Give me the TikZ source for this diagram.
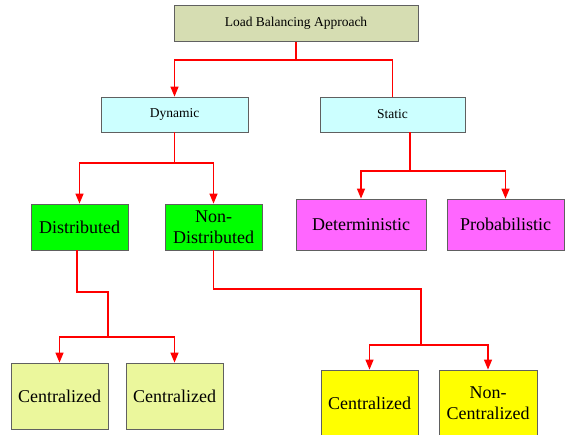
\documentclass[tikz,border=0pt]{standalone}
\usepackage{fontspec}
\setmainfont{Liberation Serif}
\usetikzlibrary{arrows.meta}
\definecolor{rootfill}{HTML}{D6DDB2}
\definecolor{cyanfill}{HTML}{CCFFFF}
\definecolor{greenfill}{HTML}{00FF00}
\definecolor{magfill}{HTML}{FF66FF}
\definecolor{palefill}{HTML}{EBF79C}
\definecolor{yelfill}{HTML}{FFFF00}
\definecolor{boxgray}{HTML}{606060}
\begin{document}
\begin{tikzpicture}[x=1pt,y=-1pt,
  box/.style={draw=boxgray, line width=0.8pt, inner sep=0pt, align=center, text=black},
  small/.style={font=\fontsize{13.5}{16}\selectfont},
  big/.style={font=\fontsize{18}{21.6}\selectfont},
  conn/.style={draw=red, line width=1.3pt},
  arr/.style={conn, -{Triangle[length=10pt,width=8pt]}}]
\useasboundingbox (0,0) rectangle (565,434);
\begin{scope}
\clip (0,0) rectangle (565,434);
\node[box,small,fill=rootfill,minimum width=244pt,minimum height=36pt] (root) at (296,23.5) {Load Balancing Approach};
\node[box,small,fill=cyanfill,minimum width=147pt,minimum height=35pt] (dyn) at (174.5,114.5) {Dynamic};
\node[box,small,fill=cyanfill,minimum width=145pt,minimum height=35pt] (stat) at (392.5,114.5) {Static};
\node[box,big,fill=greenfill,minimum width=97pt,minimum height=46pt] (dist) at (79.5,227) {Distributed};
\node[box,big,fill=greenfill,minimum width=97pt,minimum height=46pt] (nondist) at (213.5,227) {Non-\\Distributed};
\node[box,big,fill=magfill,minimum width=130pt,minimum height=51pt] (det) at (361,224.5) {Deterministic};
\node[box,big,fill=magfill,minimum width=117pt,minimum height=51pt] (prob) at (505.5,224.5) {Probabilistic};
\node[box,big,fill=palefill,minimum width=97pt,minimum height=66pt] (c1) at (59.5,396) {Centralized};
\node[box,big,fill=palefill,minimum width=97pt,minimum height=66pt] (c2) at (174.5,396) {Centralized};
\node[box,big,fill=yelfill,minimum width=97pt,minimum height=66pt] (c3) at (369.5,403) {Centralized};
\node[box,big,fill=yelfill,minimum width=98pt,minimum height=66pt] (c4) at (488,403) {Non-\\Centralized};
\end{scope}
\coordinate (j1) at (0,60);
\coordinate (j2) at (0,163);
\coordinate (s0) at (410,132);
\coordinate (s1) at (410,171);
\coordinate (d1) at (108,292);
\coordinate (d2) at (108,337);
\coordinate (n1) at (421,289);
\coordinate (n2) at (421,345);
\draw[arr] (root.south) -- (root.south |- j1) -| (dyn.north);
\draw[conn] (root.south |- j1) -| (stat.north);
\draw[arr] (dyn.south) -- (dyn.south |- j2) -| (dist.north);
\draw[arr] (dyn.south |- j2) -| (nondist.north);
\draw[conn] (s0) -- (s1);
\draw[arr] (s1) -| (det.north);
\draw[arr] (s1) -| (prob.north);
\draw[conn] ([xshift=-2.5]dist.south) |- (d1) -- (d2);
\draw[arr] (d2) -| (c1.north);
\draw[arr] (d2) -| (c2.north);
\draw[conn] (nondist.south) |- (n1) -- (n2);
\draw[arr] (n2) -| (c3.north);
\draw[arr] (n2) -| (c4.north);
\end{tikzpicture}
\end{document}
